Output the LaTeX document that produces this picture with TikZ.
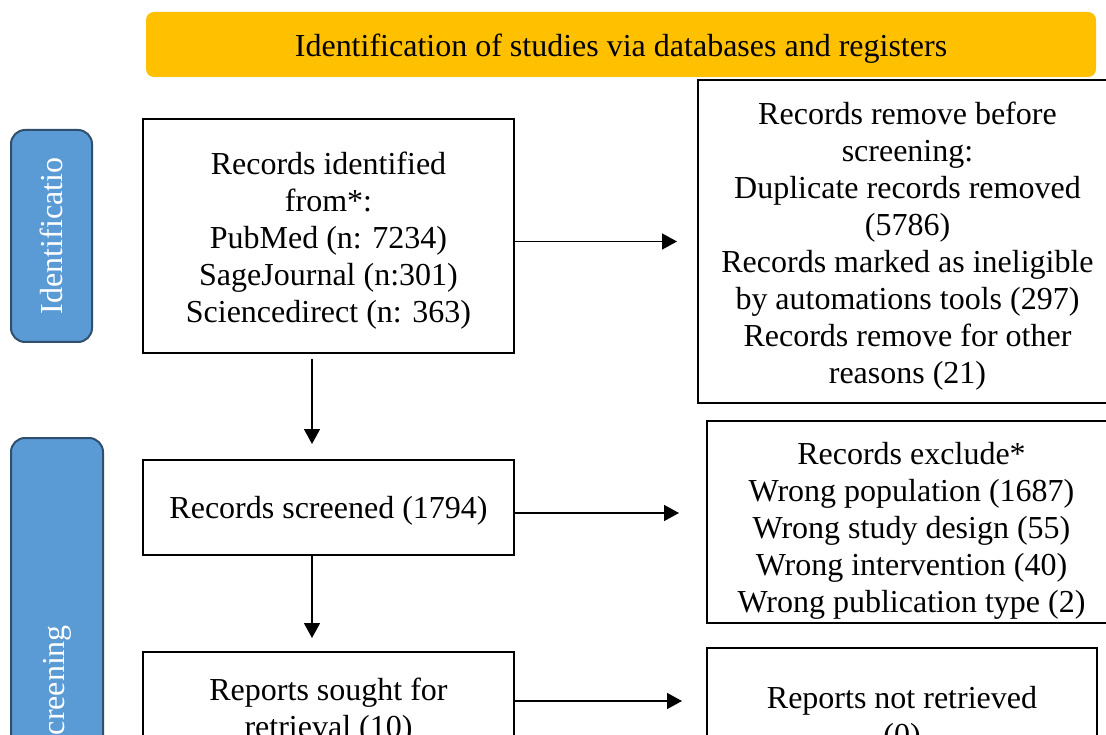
\documentclass[tikz,border=0pt]{standalone}
\usepackage{fontspec}
\setmainfont{Liberation Serif}
\usetikzlibrary{arrows.meta,positioning}
\definecolor{prismaorange}{HTML}{FFC000}
\definecolor{prismablue}{HTML}{5B9BD5}
\definecolor{prismaedge}{HTML}{2F4F6F}
% pushes the first line of a box down a little
\newcommand{\topgap}[1][32pt]{\rule{0pt}{#1}}

\begin{document}
\begin{tikzpicture}[
  x=1pt, y=-1pt,
  font=\fontsize{32}{37}\selectfont,
  flowbox/.style={draw=black, line width=2pt, align=center, inner sep=0pt},
  phase/.style={draw=prismaedge, line width=2pt, fill=prismablue, rounded corners=14pt, rotate=90, text=white, inner sep=0pt},
  banner/.style={fill=prismaorange, rounded corners=8pt, inner sep=0pt},
  flow/.style={-{Triangle[width=16pt,length=15pt]}, line width=1.5pt}
]
\useasboundingbox (0,0) rectangle (1106,735);
\clip (0,0) rectangle (1106,735);

\node[banner, minimum width=950pt, minimum height=65pt] (title) at (621,44.5) {\topgap[30pt]Identification of studies via databases and registers};
\node[phase, minimum width=212pt, minimum height=81pt] (identPhase) at (51.5,236) {Identificatio};
\node[phase, minimum width=502pt, minimum height=92pt] (screenPhase) at (57,689) {Screening};

\node[flowbox, minimum width=371pt, minimum height=234pt] (recId) at (328.5,236) {\topgap Records identified\\from*:\\PubMed (n: 7234)\\SageJournal (n:301)\\Sciencedirect (n: 363)};
\node[flowbox, minimum width=371pt, minimum height=95pt, below=105pt of recId] (screened) {\topgap[28pt]Records screened (1794)};
\node[flowbox, minimum width=371pt, minimum height=119pt, below=95pt of screened] (sought) {Reports sought for\\retrieval (10)};

\node[flowbox, minimum width=419pt, minimum height=323pt] (removed) at (907.5,241.5) {\topgap Records remove before\\screening:\\Duplicate records removed\\(5786)\\Records marked as ineligible\\by automations tools (297)\\Records remove for other\\reasons (21)};
\node[flowbox, minimum width=409pt, minimum height=202pt] (excluded) at (911.5,522) {\topgap[39pt]Records exclude*\\Wrong population (1687)\\Wrong study design (55)\\Wrong intervention (40)\\Wrong publication type (2)};
\node[flowbox, minimum width=390pt, minimum height=135pt] (notRetrieved) at (902,715.5) {\topgap[30pt]Reports not retrieved\\(0)};

% main flow
\draw[flow] ([xshift=-16.5pt,yshift=-5pt]recId.south) -- ([xshift=-16.5pt,yshift=15pt]screened.north);
\draw[flow] ([xshift=-16.5pt]screened.south) -- ([xshift=-16.5pt,yshift=13pt]sought.north);

% side exits
\draw[flow] (recId.east |- removed.west) -- ([xshift=-20pt]removed.west);
\draw[flow] ([yshift=-5.5pt]screened.east) -- ([xshift=-27pt,yshift=-5.5pt]excluded.west |- screened.east);
\draw[flow] ([yshift=10.5pt]sought.east) -- ([xshift=-24pt,yshift=10.5pt]notRetrieved.west |- sought.east);
\end{tikzpicture}
\end{document}
